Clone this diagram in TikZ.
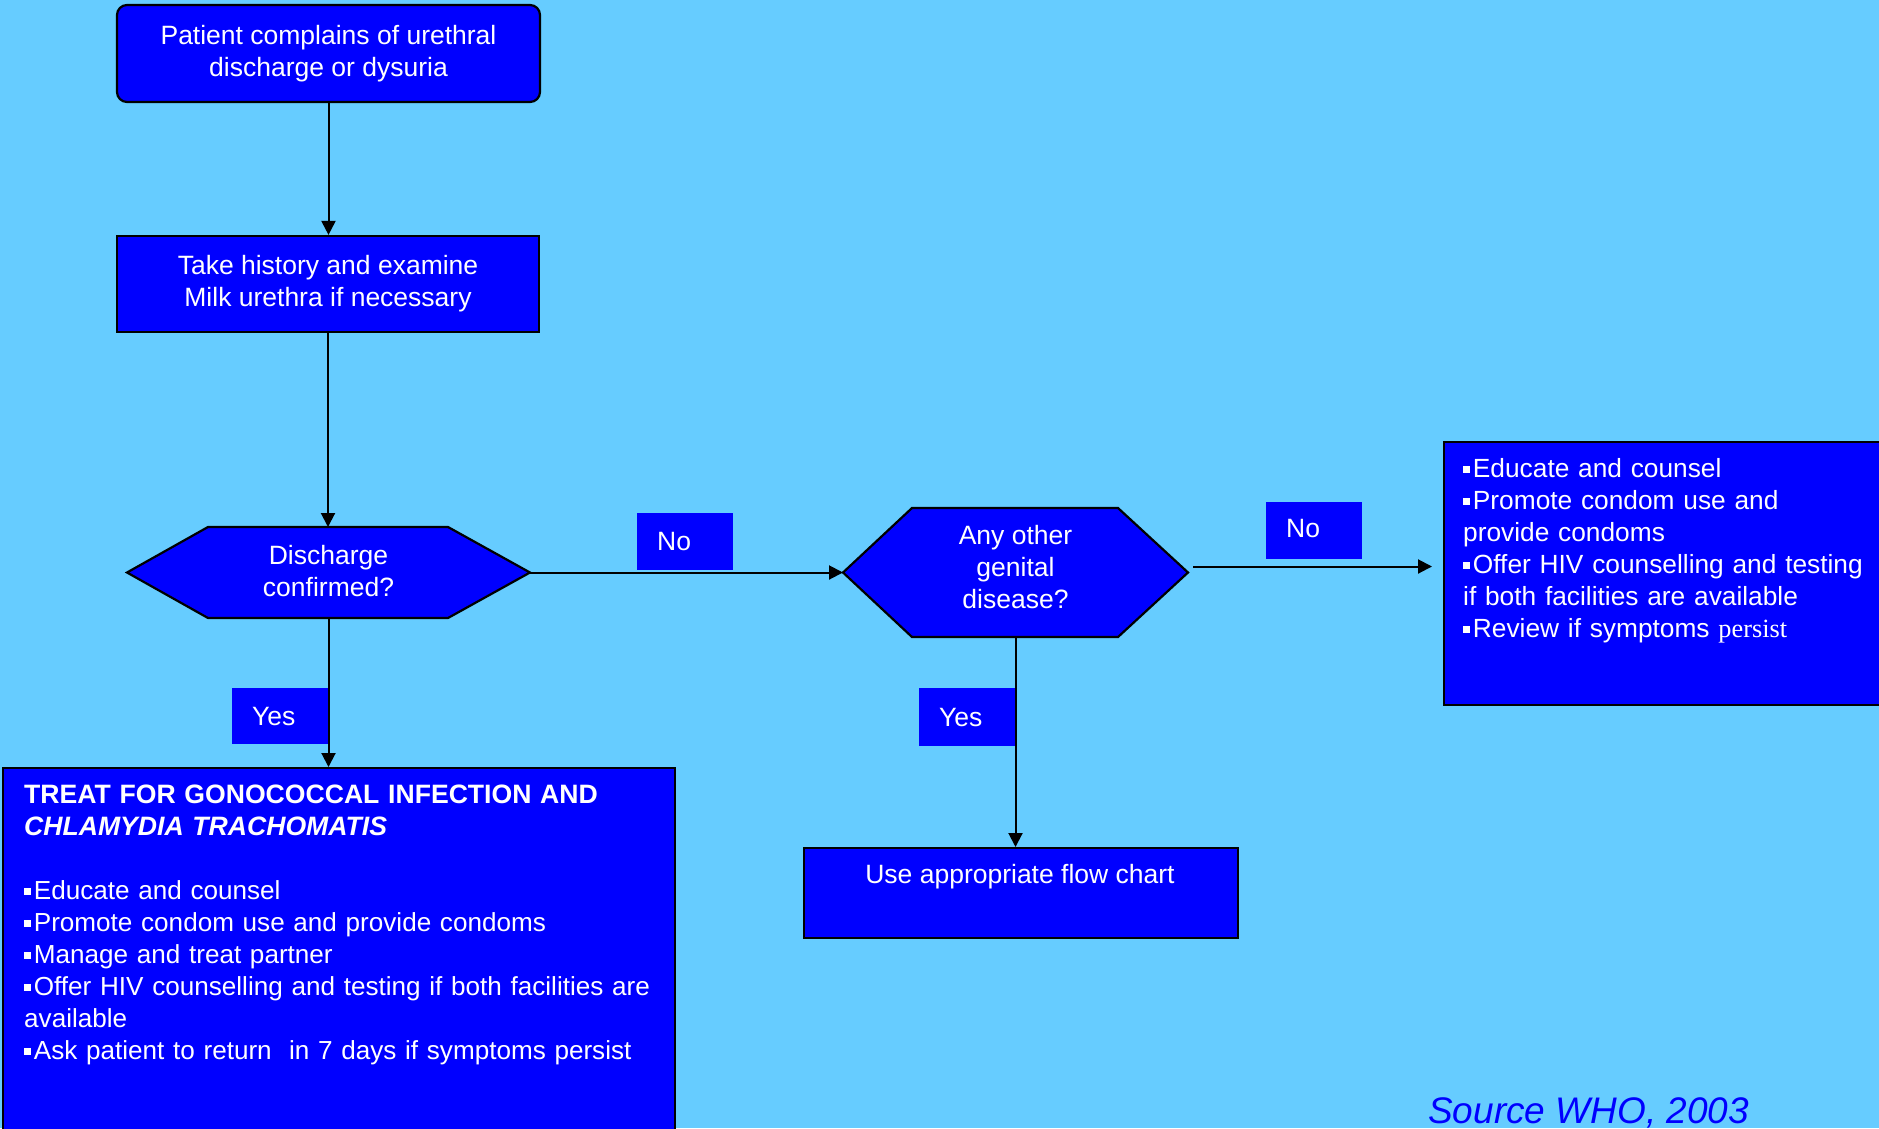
\documentclass[tikz,border=0pt]{standalone}
\usepackage{fontspec}
\setmainfont{Liberation Sans}
\newfontfamily\serifpart{Liberation Serif}
\usetikzlibrary{arrows.meta}
\definecolor{bgsky}{RGB}{102,204,255}
\definecolor{boxblue}{RGB}{0,0,255}
\newcommand{\sqbul}{\rule[0.15em]{0.26em}{0.26em}\hspace{0.11em}}
\begin{document}
\begin{tikzpicture}[x=1pt,y=-1pt,
  txt/.style={text=white, font=\fontsize{26.5}{32}\selectfont},
  box/.style={draw=black, line width=2.2pt, fill=boxblue, inner sep=0pt},
  lbl/.style={fill=boxblue, inner xsep=20pt, inner ysep=0pt, text width=56pt,
              minimum height=57pt, txt, align=left, anchor=north west},
  conn/.style={line width=2pt, draw=black, -{Triangle[width=14pt,length=14pt]}},
  holder/.style={inner sep=0pt, outer sep=0pt}]
\useasboundingbox (0,0) rectangle (1879,1128);
\clip (0,0) rectangle (1879,1128);
\fill[bgsky] (0,0) rectangle (1879,1128);

% process boxes
\node[box, rounded corners=10pt, minimum width=423pt, minimum height=97pt, txt, align=center]
  (top) at (328.5,53.5) {Patient complains of urethral\\discharge or dysuria};
\node[box, minimum width=422pt, minimum height=96pt, txt, align=center]
  (hist) at (328,284) {Take history and examine\\Milk urethra if necessary};

% decision 1
\node[holder, minimum width=403pt, minimum height=91pt] (hex1) at (328.5,572.5) {};
\draw[box] (hex1.west) -- ([xshift=81pt]hex1.north west) -- ([xshift=-82pt]hex1.north east)
  -- (hex1.east) -- ([xshift=-82pt]hex1.south east) -- ([xshift=81pt]hex1.south west) -- cycle;
\node[txt, align=center] (hex1t) at ([yshift=1pt]hex1.center) {Discharge\\confirmed?};

% decision 2
\node[holder, minimum width=345pt, minimum height=129pt] (hex2) at (1015.5,572.5) {};
\draw[box] (hex2.west) -- ([xshift=69pt]hex2.north west) -- ([xshift=-70pt]hex2.north east)
  -- (hex2.east) -- ([xshift=-70pt]hex2.south east) -- ([xshift=69pt]hex2.south west) -- cycle;
\node[txt, align=center] (hex2t) at ([yshift=5pt]hex2.center) {Any other\\genital\\disease?};

% treat box
\node[box, anchor=north west, minimum width=672pt, minimum height=380pt] (treat) at (2,767) {};
\node[txt, font=\fontsize{26.1}{32}\selectfont, anchor=base west, inner sep=0pt, align=left, text width=645pt]
  (treatt) at (24,803)
  {{\fontsize{26.6}{32}\selectfont\bfseries TREAT FOR GONOCOCCAL INFECTION AND\\
   \itshape CHLAMYDIA TRACHOMATIS}\\[32pt]
   \sqbul Educate and counsel\\
   \sqbul Promote condom use and provide condoms\\
   \sqbul Manage and treat partner\\
   \sqbul Offer HIV counselling and testing if both facilities are\\
   available\\
   \sqbul Ask patient to return\ \ in 7 days if symptoms persist};

% right box
\node[box, anchor=north west, minimum width=450pt, minimum height=263pt] (rbox) at (1443,441) {};
\node[txt, font=\fontsize{26.3}{32}\selectfont, anchor=base west, inner sep=0pt, align=left, text width=410pt]
  (rboxt) at (1463,477)
  {\sqbul Educate and counsel\\
   \sqbul Promote condom use and\\
   provide condoms\\
   \sqbul Offer HIV counselling and testing\\
   if both facilities are available\\
   \sqbul Review if symptoms {\serifpart persist}};

% flow chart box
\node[box, anchor=north west, minimum width=434pt, minimum height=90pt] (flow) at (803,847) {};
\node[txt, anchor=base, inner sep=0pt] (flowt) at (1020,883) {Use appropriate flow chart};

% labels
\node[lbl] (no1) at (637,513) {No};
\node[lbl, text depth=4pt] (no2) at (1266,502) {No};
\node[lbl, minimum height=56pt] (yes1) at (232,688) {Yes};
\node[lbl, minimum height=58pt] (yes2) at (919,688) {Yes};

% connectors
\draw[conn] (top.south) -- (top.south |- hist.north);
\draw[conn] (hist.south) -- (hist.south |- hex1.north);
\draw[conn] (hex1.east) -- (hex2.west);
\draw[conn] (hex1.south) -- (hex1.south |- treat.north);
\draw[conn] (hex2.south) -- (hex2.south |- flow.north);
\coordinate (a2s) at ([xshift=5pt,yshift=6pt]hex2.east);
\path (rbox.west |- a2s) ++(-11,0) coordinate (a2e);
\draw[conn] (a2s) -- (a2e);

% source
\node[anchor=base west, inner sep=0pt, text=boxblue, font=\fontsize{37}{40}\selectfont\itshape]
  (src) at (1428,1123) {Source WHO, 2003};
\end{tikzpicture}
\end{document}
